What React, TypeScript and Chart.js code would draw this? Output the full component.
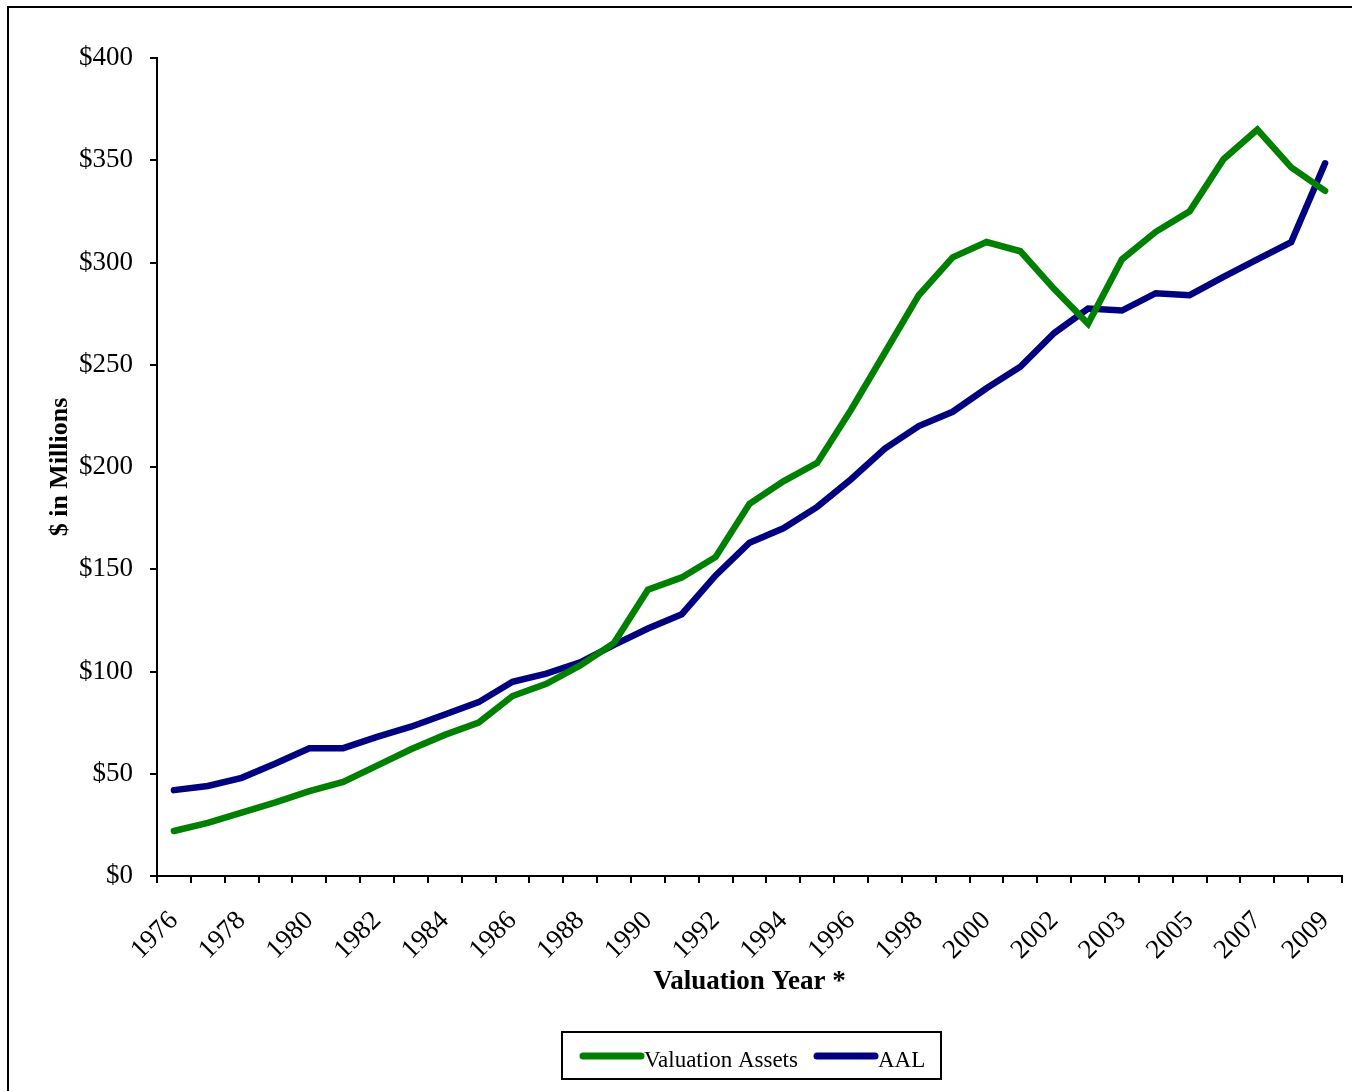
import React, { useEffect, useRef } from 'react';
import { Chart, registerables } from 'chart.js';

Chart.register(...registerables);

const years = [
  '1976', '1977', '1978', '1979', '1980', '1981', '1982', '1983', '1984', '1985',
  '1986', '1987', '1988', '1989', '1990', '1991', '1992', '1993', '1994', '1995',
  '1996', '1997', '1998', '1999', '2000', '2001', '2002', '2002', '2003', '2004',
  '2005', '2006', '2007', '2008', '2009',
];

const valuationAssets = [
  22, 26, 31, 36, 41.5, 46, 54, 62, 69, 75,
  88, 94, 103, 114, 140, 146, 156, 182, 193, 202,
  228, 256, 284, 302.5, 310, 305.5, 287, 270, 301.5, 315,
  325, 350.5, 365, 346.5, 335,
];

const aal = [
  42, 44, 48, 55, 62.5, 62.5, 68, 73, 79, 85,
  95, 99, 104.5, 113, 121, 128, 147, 163, 170, 180.5,
  194, 209, 220, 227, 238.5, 249, 265.5, 277.5, 276.5, 285,
  284, 293, 301.5, 310, 348.5,
];

const seriesNames = ['Valuation Assets', 'AAL'];
const seriesColors = ['#008000', '#000080'];

const yMin = 0;
const yMax = 400;
const yStep = 50;

const SERIF = '"Liberation Serif", "Times New Roman", serif';

const framePlugin = {
  id: 'frameAndLegend',
  afterDraw(chart: any) {
    const ctx = chart.ctx;
    ctx.save();
    // outer frame
    ctx.strokeStyle = '#000';
    ctx.lineWidth = 2;
    ctx.beginPath();
    ctx.moveTo(8, 1091);
    ctx.lineTo(8, 7);
    ctx.lineTo(1352, 7);
    ctx.stroke();

    // legend box
    ctx.strokeRect(562, 1032, 379, 47);
    const items = [
      { x0: 583, x1: 641, tx: 644 },
      { x0: 817, x1: 875, tx: 878 },
    ];
    chart.data.datasets.forEach((ds: any, i: number) => {
      const it = items[i];
      ctx.strokeStyle = ds.borderColor;
      ctx.lineWidth = 7;
      ctx.lineCap = 'round';
      ctx.beginPath();
      ctx.moveTo(it.x0, 1056);
      ctx.lineTo(it.x1, 1056);
      ctx.stroke();
      ctx.fillStyle = '#000';
      ctx.font = `23px ${SERIF}`;
      ctx.textAlign = 'left';
      ctx.textBaseline = 'alphabetic';
      ctx.fillText(ds.label, it.tx, 1067);
    });
    ctx.restore();
  },
};

export default function App() {
  const ref = useRef<HTMLCanvasElement | null>(null);

  useEffect(() => {
    if (!ref.current) return;
    const chart = new Chart(ref.current, {
      type: 'line',
      data: {
        labels: years,
        datasets: [
          {
            label: seriesNames[0],
            data: valuationAssets,
            borderColor: seriesColors[0],
            backgroundColor: seriesColors[0],
            borderWidth: 6.5,
            borderCapStyle: 'round',
            pointRadius: 0,
            tension: 0,
            fill: false,
          },
          {
            label: seriesNames[1],
            data: aal,
            borderColor: seriesColors[1],
            backgroundColor: seriesColors[1],
            borderWidth: 6.5,
            borderCapStyle: 'round',
            pointRadius: 0,
            tension: 0,
            fill: false,
          },
        ],
      },
      options: {
        animation: false,
        responsive: false,
        maintainAspectRatio: false,
        layout: { padding: { top: 58, right: 10, bottom: 85, left: 0 } },
        plugins: {
          legend: { display: false },
          tooltip: { enabled: false },
        },
        scales: {
          x: {
            type: 'category',
            offset: true,
            grid: {
              offset: true,
              drawOnChartArea: false,
              drawTicks: true,
              tickLength: 7,
              color: '#000',
              lineWidth: 2,
            },
            border: { display: true, color: '#000', width: 2 },
            ticks: {
              autoSkip: false,
              maxRotation: 45,
              minRotation: 45,
              color: '#000',
              padding: 22,
              font: { family: SERIF, size: 27 },
              callback: function (this: any, v: any, i: number) {
                return i % 2 === 0 ? this.getLabelForValue(v) : '';
              },
            },
            title: {
              display: true,
              text: 'Valuation Year *',
              color: '#000',
              font: { family: SERIF, size: 27, weight: 'bold' },
              padding: { top: 0, bottom: 8 },
            },
            afterFit: (s: any) => {
              s.height = 130;
              s.paddingLeft = 0;
              s.paddingRight = 0;
            },
          },
          y: {
            min: yMin,
            max: yMax,
            grid: {
              drawOnChartArea: false,
              drawTicks: true,
              tickLength: 7,
              color: '#000',
              lineWidth: 2,
            },
            border: { display: true, color: '#000', width: 2 },
            ticks: {
              stepSize: yStep,
              color: '#000',
              padding: 17,
              font: { family: SERIF, size: 27 },
              callback: (v: any) => '$' + v,
            },
            title: {
              display: true,
              text: '$ in Millions',
              color: '#000',
              font: { family: SERIF, size: 26, weight: 'bold' },
              padding: { top: 45, bottom: 0 },
            },
            afterFit: (s: any) => {
              s.width = 157;
              s.paddingTop = 0;
              s.paddingBottom = 0;
            },
          },
        },
      } as any,
      plugins: [framePlugin],
    });
    return () => chart.destroy();
  }, []);

  return (
    <div style={{ position: 'absolute', left: 0, top: 0, width: 1352, height: 1091, background: '#fff' }}>
      <canvas ref={ref} width={1352} height={1091} style={{ display: 'block', width: 1352, height: 1091 }} />
    </div>
  );
}
